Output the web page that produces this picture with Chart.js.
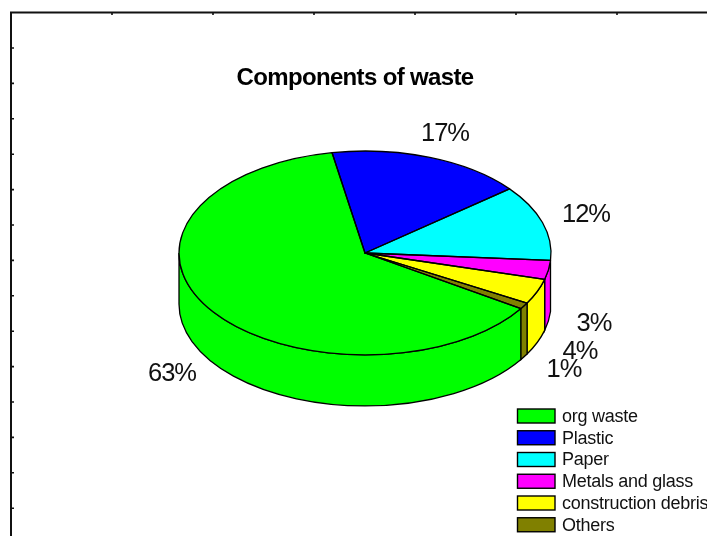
<!DOCTYPE html>
<html>
<head>
<meta charset="utf-8">
<style>
  html, body { margin: 0; padding: 0; background: #fff; overflow: hidden; }
  canvas { display: block; }
</style>
<script src="https://cdn.jsdelivr.net/npm/chart.js@4/dist/chart.umd.js"></script>
</head>
<body>
<canvas id="chart" width="707" height="536"></canvas>
<script>
const chartTitle = 'Components of waste';
const categories = ['org waste', 'Plastic', 'Paper', 'Metals and glass', 'construction debris', 'Others'];
const shares = [63, 17, 12, 3, 4, 1];
const sliceColors = ['#00ff00', '#0000ff', '#00ffff', '#ff00ff', '#ffff00', '#808000'];

// Where each percentage label is centred, in slice order
const labelCentres = [[172, 374], [445, 134], [586, 215], [594, 324], [580, 352], [564, 370]];

const TILT = 0.548;      // vertical squash of the pie disc
const DEPTH = 51;        // height of the cylinder wall
const FONT = '"Liberation Sans", Arial, sans-serif';
const INK = '#000';

// Squashes the flat pie into an ellipse and adds a wall under its lower half
const tiltedPie = {
  id: 'tiltedPie',
  beforeDatasetDraw(chart) {
    const ctx = chart.ctx;
    const arcs = chart.getDatasetMeta(0).data;
    const { x: cx, y: cy, outerRadius: r } = arcs[0];
    const ry = r * TILT;
    ctx.save();
    ctx.lineWidth = 1.3;
    ctx.strokeStyle = INK;
    arcs.forEach(arc => {
      const a0 = Math.max(norm(arc.startAngle), 0);
      const a1 = Math.min(norm(arc.startAngle) + (arc.endAngle - arc.startAngle), Math.PI);
      if (a1 <= a0) return;
      ctx.beginPath();
      ctx.ellipse(cx, cy, r, ry, 0, a0, a1);
      ctx.ellipse(cx, cy + DEPTH, r, ry, 0, a1, a0, true);
      ctx.closePath();
      ctx.fillStyle = arc.options.backgroundColor;
      ctx.fill();
      ctx.stroke();
    });
    ctx.restore();
    ctx.save();
    ctx.translate(0, cy);
    ctx.scale(1, TILT);
    ctx.translate(0, -cy);
  },
  afterDatasetDraw(chart) {
    const ctx = chart.ctx;
    ctx.restore();
    ctx.save();
    ctx.lineWidth = 1.3;
    ctx.strokeStyle = INK;
    ctx.lineJoin = 'round';
    chart.getDatasetMeta(0).data.forEach(arc => {
      ctx.beginPath();
      ctx.moveTo(arc.x, arc.y);
      ctx.ellipse(arc.x, arc.y, arc.outerRadius, arc.outerRadius * TILT, 0, arc.startAngle, arc.endAngle);
      ctx.closePath();
      ctx.stroke();
    });
    ctx.restore();
  }
};

function norm(angle) {
  const full = Math.PI * 2;
  let a = angle % full;
  if (a < 0) a += full;
  return a;
}

// Open frame with small inward ticks along the top and left edges
const frame = {
  id: 'frame',
  beforeDraw(chart) {
    const ctx = chart.ctx;
    ctx.save();
    ctx.strokeStyle = '#111';
    ctx.lineWidth = 2;
    ctx.beginPath();
    ctx.moveTo(11, 536);
    ctx.lineTo(11, 12.5);
    ctx.lineTo(707, 12.5);
    ctx.stroke();
    ctx.lineWidth = 1.6;
    ctx.beginPath();
    for (let i = 0; i < 14; i++) {
      const y = 48 + i * 35.4;
      ctx.moveTo(11, y);
      ctx.lineTo(14, y);
    }
    for (let i = 0; i < 6; i++) {
      const x = 112 + i * 101;
      ctx.moveTo(x, 12);
      ctx.lineTo(x, 15);
    }
    ctx.stroke();
    ctx.restore();
  }
};

// Title, percentage labels and the legend block
const annotations = {
  id: 'annotations',
  afterDraw(chart) {
    const ctx = chart.ctx;
    ctx.save();
    ctx.textBaseline = 'middle';

    ctx.fillStyle = INK;
    ctx.textAlign = 'center';
    ctx.font = 'bold 24px ' + FONT;
    ctx.letterSpacing = '-0.65px';
    ctx.fillText(chartTitle, 355, 78);

    ctx.fillStyle = '#111';
    ctx.font = '25.5px ' + FONT;
    ctx.letterSpacing = '-1px';
    shares.forEach((v, i) => {
      ctx.fillText(v + '%', labelCentres[i][0], labelCentres[i][1]);
    });

    ctx.textAlign = 'left';
    ctx.font = '18px ' + FONT;
    ctx.letterSpacing = '-0.25px';
    categories.forEach((name, i) => {
      const top = 409 + i * 21.75;
      ctx.fillStyle = sliceColors[i];
      ctx.fillRect(517.5, top, 37.5, 14);
      ctx.strokeStyle = INK;
      ctx.lineWidth = 1.4;
      ctx.strokeRect(517.5, top, 37.5, 14);
      ctx.fillStyle = '#111';
      ctx.fillText(name, 562, top + 8);
    });
    ctx.restore();
  }
};

new Chart(document.getElementById('chart'), {
  type: 'pie',
  data: {
    labels: categories,
    datasets: [{
      data: shares,
      backgroundColor: sliceColors,
      borderWidth: 0
    }]
  },
  options: {
    responsive: false,
    animation: false,
    rotation: 123,
    layout: { padding: { left: 179, right: 156, top: 67, bottom: 97 } },
    plugins: {
      legend: { display: false },
      title: { display: false },
      tooltip: { enabled: false }
    }
  },
  plugins: [frame, tiltedPie, annotations]
});
</script>
</body>
</html>
